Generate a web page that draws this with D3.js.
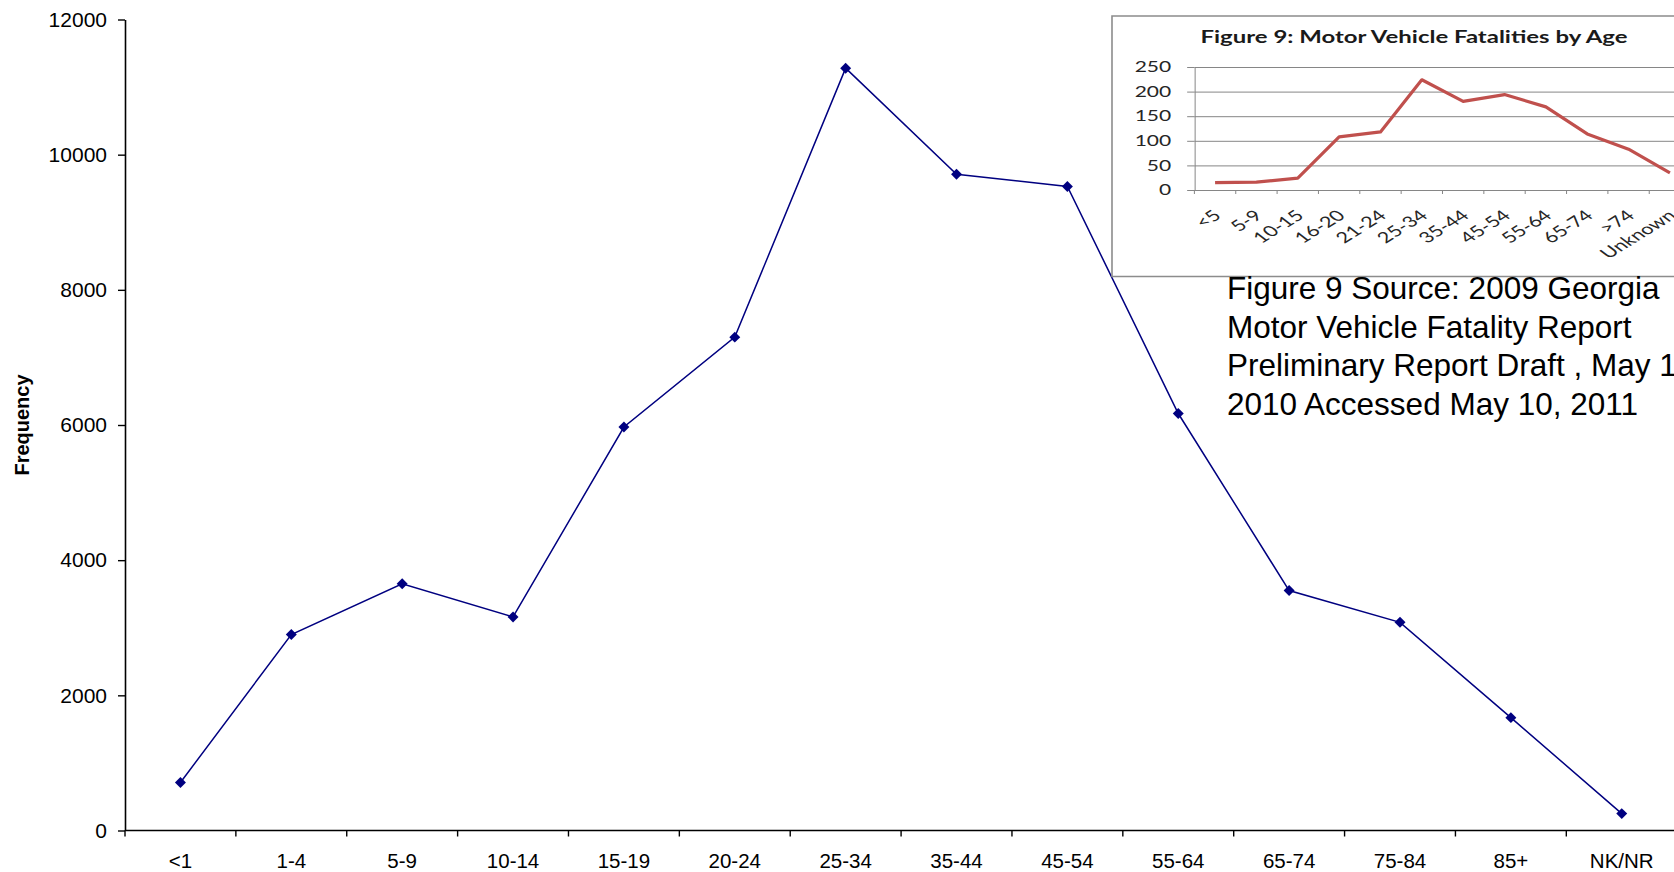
<!DOCTYPE html>
<html>
<head>
<meta charset="utf-8">
<script src="https://cdn.jsdelivr.net/npm/d3@7"></script>
<style>
  html, body { margin: 0; padding: 0; background: #fff; }
  svg { display: block; }
</style>
</head>
<body>
<svg id="chart" width="1674" height="872"></svg>
<script>
// Main series: frequency by age group
const categories = ["<1", "1-4", "5-9", "10-14", "15-19", "20-24", "25-34", "35-44", "45-54", "55-64", "65-74", "75-84", "85+", "NK/NR"];
const frequency = [710, 2900, 3650, 3160, 5970, 7300, 11280, 9710, 9530, 6170, 3550, 3080, 1670, 250];
const yTicks = [0, 2000, 4000, 6000, 8000, 10000, 12000];
const yLabel = "Frequency";

// Inset: Figure 9, motor vehicle fatalities by age
const insetTitle = "Figure 9: Motor Vehicle Fatalities by Age";
const insetCategories = ["<5", "5-9", "10-15", "16-20", "21-24", "25-34", "35-44", "45-54", "55-64", "65-74", ">74", "Unknown"];
const insetFatalities = [15, 16, 24, 108, 118, 224, 180, 194, 169, 114, 83, 35];
const insetTicks = [0, 50, 100, 150, 200, 250];

// Source note
const sourceLines = [
  "Figure 9 Source: 2009 Georgia",
  "Motor Vehicle Fatality Report",
  "Preliminary Report Draft , May 1",
  "2010 Accessed May 10, 2011"
];

const svg = d3.select("#chart");
const W = 1674, H = 872;
svg.append("rect").attr("width", W).attr("height", H).attr("fill", "#fff");

const FONT = "'Liberation Sans', Arial, sans-serif";

// ---------- main chart ----------
const left = 125, step = 110.87;
const x = d3.scaleBand().domain(categories).range([left, left + step * categories.length]).padding(0);
const y = d3.scaleLinear().domain([0, 12000]).range([830.5, 19.5]);

const yAxis = svg.append("g")
  .attr("transform", `translate(${left},0)`)
  .call(d3.axisLeft(y).tickValues(yTicks).tickSize(7).tickSizeOuter(0).tickPadding(11).tickFormat(d3.format("d")));
yAxis.select(".domain").attr("stroke", "#000").attr("stroke-width", 1.6);
yAxis.selectAll(".tick line").attr("stroke", "#000").attr("stroke-width", 1.4);
yAxis.selectAll(".tick text").attr("font-family", FONT).attr("font-size", 21).attr("fill", "#000");

const xAxis = svg.append("g")
  .attr("transform", `translate(0,${y(0)})`)
  .call(d3.axisBottom(x).tickSize(0).tickPadding(23));
xAxis.select(".domain").remove();
xAxis.selectAll(".tick text").attr("font-family", FONT).attr("font-size", 20.5).attr("fill", "#000");
xAxis.append("line")
  .attr("x1", left).attr("x2", W).attr("y1", 0).attr("y2", 0)
  .attr("stroke", "#000").attr("stroke-width", 1.6);
xAxis.selectAll(".boundary")
  .data(categories)
  .join("line")
  .attr("class", "boundary")
  .attr("x1", d => x(d)).attr("x2", d => x(d))
  .attr("y1", 0).attr("y2", 6)
  .attr("stroke", "#000").attr("stroke-width", 1.4);

svg.append("text")
  .attr("transform", `translate(29,${(y(0) + y(12000)) / 2}) rotate(-90)`)
  .attr("text-anchor", "middle")
  .attr("font-family", FONT).attr("font-size", 20).attr("font-weight", "bold")
  .text(yLabel);

const cx = d => x(d) + x.bandwidth() / 2;
const mainLine = d3.line().x((d, i) => cx(categories[i])).y(d => y(d));
svg.append("path")
  .datum(frequency)
  .attr("d", mainLine)
  .attr("fill", "none").attr("stroke", "#000080").attr("stroke-width", 1.5);

svg.append("g").selectAll("path")
  .data(frequency)
  .join("path")
  .attr("d", d3.symbol(d3.symbolSquare, 60))
  .attr("transform", (d, i) => `translate(${cx(categories[i])},${y(d)}) rotate(45)`)
  .attr("fill", "#000080");

// ---------- inset (stretched horizontally) ----------
const sx = 1.45, ox = 1112;
const inset = svg.append("g").attr("transform", `translate(${ox},0) scale(${sx},1)`);
const innerW = (W + 30 - ox) / sx;

inset.append("rect")
  .attr("x", 0).attr("y", 16).attr("width", innerW).attr("height", 260.5)
  .attr("fill", "#fff").attr("stroke", "#8c8c8c").attr("stroke-width", 1.6)
  .attr("vector-effect", "non-scaling-stroke");

const ix0 = (1194.4 - ox) / sx, istep = 41.35 / sx;
const ix = d3.scaleBand().domain(insetCategories).range([ix0, ix0 + istep * insetCategories.length]).padding(0);
const iy = d3.scaleLinear().domain([0, 250]).range([190, 67]);

const IFONT = "Lato, 'Open Sans', sans-serif";

inset.append("text")
  .attr("x", (1414 - ox) / sx).attr("y", 43)
  .attr("text-anchor", "middle")
  .attr("font-family", IFONT).attr("font-size", 17).attr("font-weight", "bold").attr("fill", "#1a1a1a")
  .attr("textLength", 427 / sx).attr("lengthAdjust", "spacingAndGlyphs")
  .text(insetTitle);

// gridlines + y ticks
const iyAxis = inset.append("g")
  .attr("transform", `translate(${ix0},0)`)
  .call(d3.axisLeft(iy).tickValues(insetTicks).tickSize(5).tickSizeOuter(0).tickPadding(11).tickFormat(d3.format("d")));
iyAxis.select(".domain").attr("stroke", "#868686").attr("vector-effect", "non-scaling-stroke");
iyAxis.selectAll(".tick line").attr("stroke", "#868686").attr("vector-effect", "non-scaling-stroke");
iyAxis.selectAll(".tick text").attr("font-family", IFONT).attr("font-size", 14.5).attr("fill", "#262626");
iyAxis.selectAll(".tick").append("line")
  .attr("class", "grid")
  .attr("x1", 0).attr("x2", innerW - ix0)
  .attr("stroke", "#868686").attr("stroke-width", 1)
  .attr("vector-effect", "non-scaling-stroke");

// x axis boundary ticks and labels
const ixAxis = inset.append("g").attr("transform", `translate(0,${iy(0)})`);
ixAxis.selectAll(".boundary")
  .data(insetCategories)
  .join("line")
  .attr("class", "boundary")
  .attr("x1", d => ix(d)).attr("x2", d => ix(d))
  .attr("y1", 0).attr("y2", 4)
  .attr("stroke", "#868686").attr("vector-effect", "non-scaling-stroke");
ixAxis.selectAll(".lbl")
  .data(insetCategories)
  .join("text")
  .attr("class", "lbl")
  .attr("transform", d => `translate(${ix(d) + ix.bandwidth() / 2 + 1.5},${23}) rotate(-42)`)
  .attr("text-anchor", "end").attr("dy", "0.35em")
  .attr("font-family", IFONT).attr("font-size", 15).attr("fill", "#262626")
  .text(d => d);

const icx = d => ix(d) + ix.bandwidth() / 2;
inset.append("path")
  .datum(insetFatalities)
  .attr("d", d3.line().x((d, i) => icx(insetCategories[i])).y(d => iy(d)))
  .attr("fill", "none").attr("stroke", "#C0504D").attr("stroke-width", 3.2)
  .attr("stroke-linejoin", "round")
  .attr("vector-effect", "non-scaling-stroke");

// ---------- source note ----------
const note = svg.append("g").attr("transform", "translate(1227,0)");
note.selectAll("text")
  .data(sourceLines)
  .join("text")
  .attr("x", 0)
  .attr("y", (d, i) => 299 + i * 38.6)
  .attr("font-family", FONT).attr("font-size", 31.5).attr("fill", "#000")
  .text(d => d);
</script>
</body>
</html>
